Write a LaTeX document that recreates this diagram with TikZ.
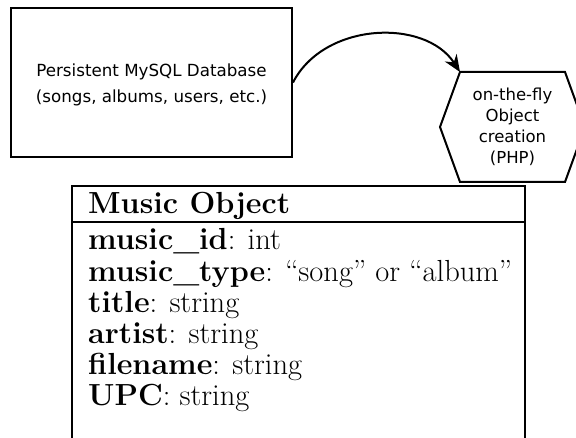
\documentclass[tikz,border=0pt]{standalone}
\usepackage{fontspec}
\newfontfamily\dejavu{DejaVu Sans}
\usetikzlibrary{arrows.meta}
\begin{document}
\begin{tikzpicture}[x=1pt,y=-1pt,
  box/.style={draw,line width=2pt},
  sanslabel/.style={font=\dejavu\fontsize{16.7}{26}\selectfont,align=center,inner sep=0pt},
  hexlabel/.style={font=\dejavu\fontsize{16.5}{21}\selectfont,align=center,inner sep=0pt},
  rowtext/.style={font=\fontsize{30.5}{31}\selectfont,anchor=base west,inner sep=0pt},
  flow/.style={line width=2pt,-{Stealth[length=17pt,width=14pt]}}]
\useasboundingbox (0,0) rectangle (576,438);
% database box
\node[box,minimum width=281pt,minimum height=149pt,inner sep=0pt] (db) at (151.5,82.5) {};
\node[sanslabel] (dbtext) at (151.5,85) {Persistent MySQL Database\\(songs, albums, users, etc.)};
% hexagon
\node[hexlabel] (hex) at (512.5,127) {on-the-fly\\Object\\creation\\(PHP)};
\coordinate (hexTL) at (460,72);
\coordinate (hexTR) at (565,72);
\coordinate (hexR) at (585,127);
\coordinate (hexBR) at (565,182);
\coordinate (hexBL) at (460,182);
\coordinate (hexL) at (440,127);
\draw[line width=2pt,line join=miter] (hexTL) -- (hexTR) -- (hexR) -- (hexBR) -- (hexBL) -- (hexL) -- cycle;
% arrow
\draw[flow] (db.east) .. controls (324,22) and (425,18) .. (hexTL);
% table
\coordinate (tTL) at (72,186);
\coordinate (tBR) at (525,470);
\draw[line width=2pt] (tTL) rectangle (tBR);
\coordinate (hl) at (72,222);
\coordinate (hr) at (525,222);
\draw[line width=2pt] (hl) -- (hr);
\node[rowtext] (hdr) at (88,214) {\textbf{Music Object}};
\node[rowtext] (r1) at (88,250) {\textbf{music\_id}: int};
\node[rowtext] (r2) at (88,282) {\textbf{music\_type}: ``song'' or ``album''};
\node[rowtext] (r3) at (88,313) {\textbf{title}: string};
\node[rowtext] (r4) at (88,344) {\textbf{artist}: string};
\node[rowtext] (r5) at (88,375) {\textbf{filename}: string};
\node[rowtext] (r6) at (88,406) {\textbf{UPC}: string};
\end{tikzpicture}
\end{document}
